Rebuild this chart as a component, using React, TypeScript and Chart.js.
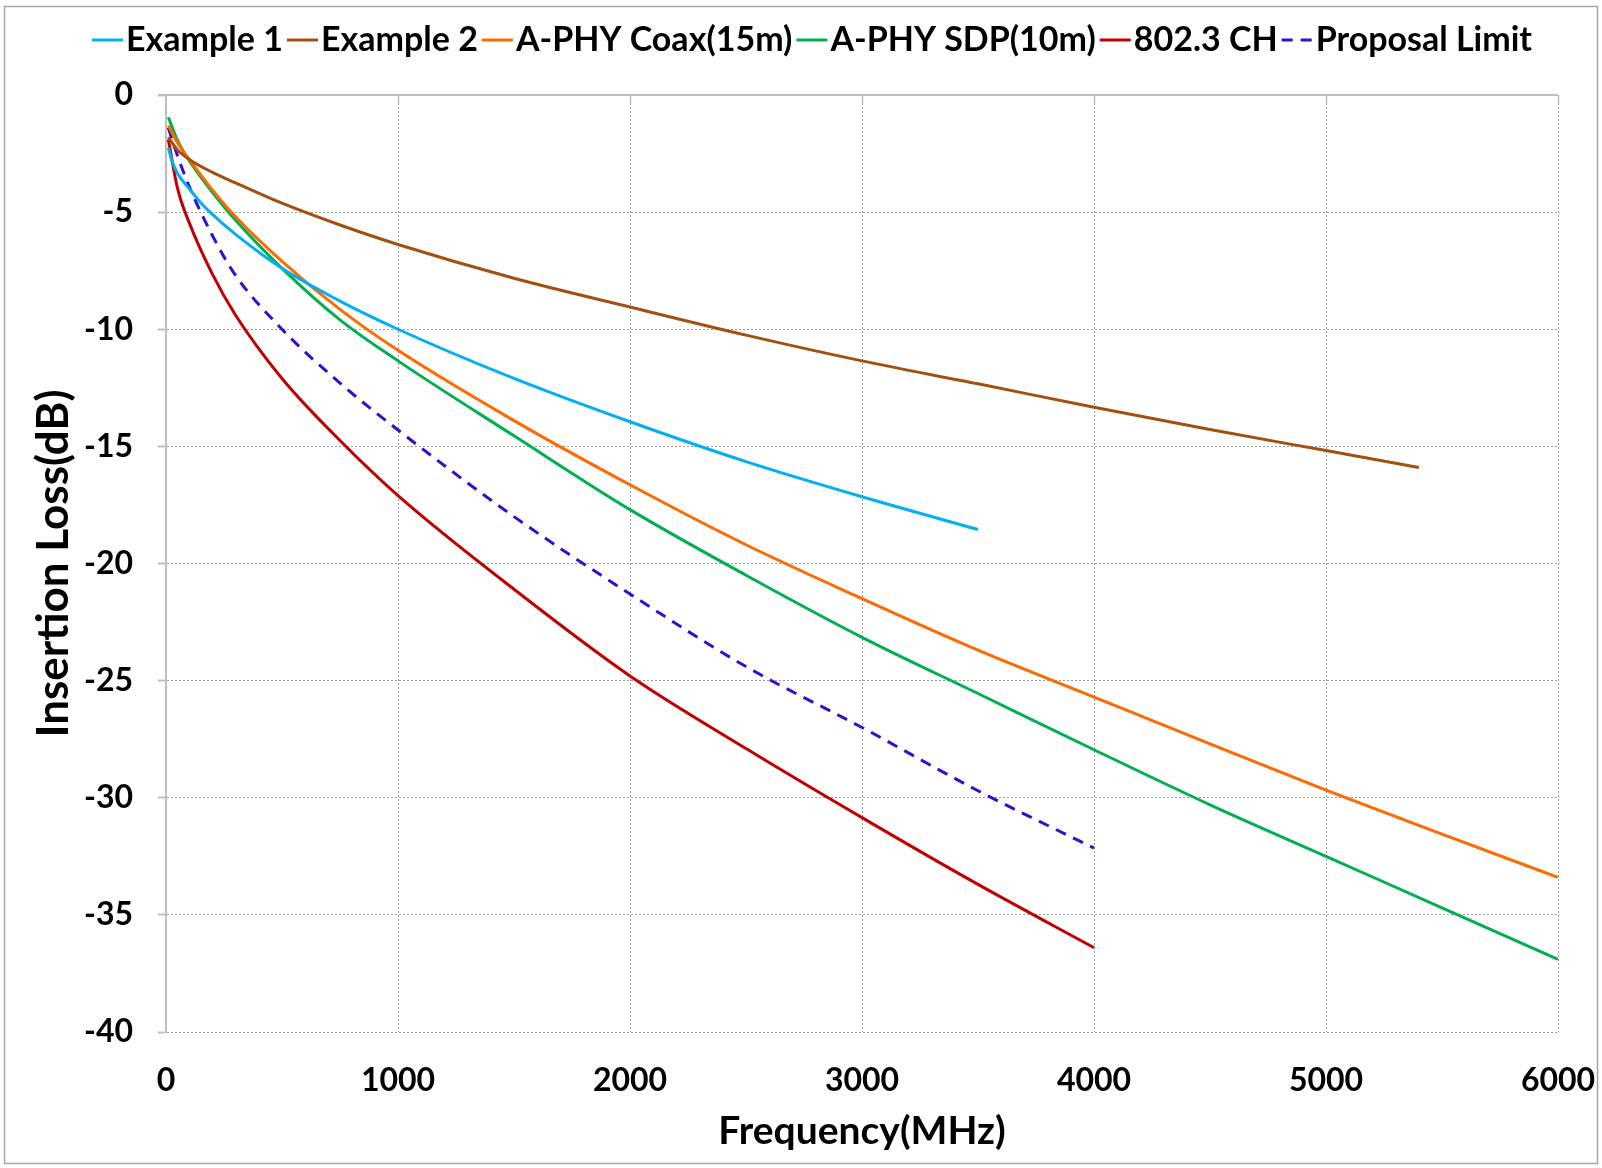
import React, { useEffect, useRef } from "react";
import { Chart, registerables } from "chart.js";

Chart.register(...registerables);

// ---- data ----
const X_TICKS = [0, 1000, 2000, 3000, 4000, 5000, 6000];
const Y_TICKS = [0, -5, -10, -15, -20, -25, -30, -35, -40];

const EX1_FREQ = [10, 25, 50, 100, 150, 200, 300, 500, 750, 1000, 1500, 2000, 2500, 3000, 3500];
const EX1_LOSS = [-2.25, -2.8, -3.35, -4.0, -4.6, -5.1, -5.95, -7.4, -8.8, -10.0, -12.1, -13.95, -15.65, -17.15, -18.55];

const EX2_FREQ = [10, 50, 100, 200, 300, 500, 750, 1000, 1500, 2000, 2500, 3000, 3500, 4000, 4500, 5000, 5400];
const EX2_LOSS = [-1.8, -2.35, -2.75, -3.3, -3.75, -4.62, -5.55, -6.38, -7.82, -9.05, -10.25, -11.35, -12.33, -13.33, -14.28, -15.18, -15.9];

const COAX_FREQ = [10, 50, 100, 200, 300, 500, 750, 1000, 1500, 2000, 2500, 3000, 3500, 4000, 4500, 5000, 5500, 6000];
const COAX_LOSS = [-1.3, -2.05, -2.75, -4.05, -5.2, -7.1, -9.15, -10.9, -13.9, -16.64, -19.2, -21.5, -23.7, -25.7, -27.7, -29.67, -31.55, -33.4];

const SDP_FREQ = [10, 50, 100, 200, 300, 500, 750, 1000, 1500, 2000, 2500, 3000, 3500, 4000, 4500, 5000, 5500, 6000];
const SDP_LOSS = [-0.95, -1.95, -2.8, -4.15, -5.35, -7.4, -9.6, -11.35, -14.55, -17.7, -20.5, -23.15, -25.55, -27.95, -30.3, -32.5, -34.7, -36.9];

const CH_FREQ = [10, 50, 100, 200, 300, 500, 750, 1000, 1500, 2000, 2500, 3000, 3500, 4000];
const CH_LOSS = [-1.9, -4.0, -5.45, -7.65, -9.4, -12.1, -14.75, -17.1, -21.1, -24.8, -27.9, -30.85, -33.7, -36.4];

const LIMIT_FREQ = [10, 50, 100, 200, 300, 500, 750, 1000, 1500, 2000, 2500, 3000, 3500, 4000];
const LIMIT_LOSS = [-1.4, -2.6, -3.9, -6.0, -7.7, -10.0, -12.3, -14.3, -18.0, -21.3, -24.4, -27.0, -29.7, -32.15];

const SERIES_NAMES = ["Example 1", "Example 2", "A-PHY Coax(15m)", "A-PHY SDP(10m)", "802.3 CH", "Proposal Limit"];
const X_TITLE = "Frequency(MHz)";
const Y_TITLE = "Insertion Loss(dB)";

// ---- styles ----
const FONT = "Lato, 'Open Sans', sans-serif";
const COLORS = ["#00B0F0", "#A0500F", "#FF6A00", "#00B050", "#C00000", "#3010D0"];
const AXIS_GRAY = "#BFBFBF";
const GRID_GRAY = "#9A9A9A";

const toPts = (xs: number[], ys: number[]) => xs.map((x, i) => ({ x, y: ys[i] }));

const legendPlugin = {
  id: "customLegend",
  afterDraw(chart: any) {
    const ctx = chart.ctx as CanvasRenderingContext2D;
    ctx.save();
    ctx.font = `bold 34px ${FONT}`;
    const lineLen = 31, gapText = 3, gapItem = 4;
    const items = chart.data.datasets.map((ds: any) => ({
      label: ds.label as string,
      color: ds.borderColor as string,
      dash: (ds.borderDash || []) as number[],
    }));
    const widths = items.map((it: any) => ctx.measureText(it.label).width);
    const total =
      widths.reduce((a: number, w: number) => a + lineLen + gapText + w, 0) + gapItem * (items.length - 1);
    let x = 812 - total / 2;
    const y = 40;
    items.forEach((it: any, i: number) => {
      ctx.strokeStyle = it.color;
      ctx.lineWidth = 3;
      ctx.setLineDash(it.dash);
      ctx.beginPath();
      ctx.moveTo(x, y);
      ctx.lineTo(x + lineLen, y);
      ctx.stroke();
      x += lineLen + gapText;
      ctx.setLineDash([]);
      ctx.fillStyle = "#000";
      ctx.textBaseline = "middle";
      ctx.textAlign = "left";
      ctx.fillText(it.label, x, y);
      x += widths[i] + gapItem;
    });
    ctx.restore();
  },
};

const framePlugin = {
  id: "frame",
  beforeDraw(chart: any) {
    const ctx = chart.ctx as CanvasRenderingContext2D;
    ctx.save();
    ctx.fillStyle = "#fff";
    ctx.fillRect(0, 0, chart.width, chart.height);
    ctx.strokeStyle = "#A6A6A6";
    ctx.lineWidth = 1.5;
    ctx.strokeRect(4.5, 6.5, chart.width - 9, chart.height - 11);
    ctx.restore();
  },
  beforeDatasetsDraw(chart: any) {
    const ctx = chart.ctx as CanvasRenderingContext2D;
    const { left, right, top } = chart.chartArea;
    const xs = chart.scales.x;
    ctx.save();
    ctx.strokeStyle = AXIS_GRAY;
    ctx.lineWidth = 2;
    ctx.beginPath();
    ctx.moveTo(left - 8, top);
    ctx.lineTo(right, top);
    ctx.stroke();
    X_TICKS.forEach((v) => {
      if (v === 0) return;
      const px = Math.round(xs.getPixelForValue(v)) + 0.5;
      ctx.lineWidth = 1.5;
      ctx.beginPath();
      ctx.moveTo(px, top);
      ctx.lineTo(px, top + 8);
      ctx.stroke();
    });
    ctx.restore();
  },
};

export default function App() {
  const ref = useRef<HTMLCanvasElement | null>(null);
  useEffect(() => {
    if (!ref.current) return;
    const mk = (i: number, xs: number[], ys: number[], extra: any = {}) => ({
      label: SERIES_NAMES[i],
      data: toPts(xs, ys),
      borderColor: COLORS[i],
      backgroundColor: COLORS[i],
      borderWidth: 3,
      pointRadius: 0,
      pointHoverRadius: 0,
      cubicInterpolationMode: "monotone",
      fill: false,
      ...extra,
    });
    const chart = new Chart(ref.current, {
      type: "line",
      data: {
        datasets: [
          mk(0, EX1_FREQ, EX1_LOSS),
          mk(1, EX2_FREQ, EX2_LOSS),
          mk(2, COAX_FREQ, COAX_LOSS),
          mk(3, SDP_FREQ, SDP_LOSS),
          mk(4, CH_FREQ, CH_LOSS),
          mk(5, LIMIT_FREQ, LIMIT_LOSS, { borderDash: [11, 8] }),
        ] as any,
      },
      options: {
        responsive: false,
        animation: false,
        devicePixelRatio: 1,
        layout: { padding: { top: 95, right: 44, bottom: 0, left: 0 } },
        plugins: { legend: { display: false }, tooltip: { enabled: false } },
        scales: {
          x: {
            type: "linear",
            min: 0,
            max: 6000,
            afterFit: (s: any) => {
              s.height = 136;
              s.paddingLeft = 0;
              s.paddingRight = 0;
            },
            afterBuildTicks: (s: any) => {
              s.ticks = X_TICKS.map((v) => ({ value: v }));
            },
            ticks: {
              padding: 29,
              color: "#000",
              font: { family: FONT, size: 32, weight: "bold" },
              maxRotation: 0,
              callback: (v: any) => String(v),
            },
            grid: {
              drawTicks: false,
              color: (c: any) => (c.tick && c.tick.value === 0 ? "rgba(0,0,0,0)" : GRID_GRAY),
              lineWidth: 1,
            },
            border: { display: false, dash: [2, 2] },
            title: {
              display: true,
              text: X_TITLE,
              color: "#000",
              font: { family: FONT, size: 39, weight: "bold" },
              padding: { top: 0, bottom: 13 },
            },
          },
          y: {
            type: "linear",
            min: -40,
            max: 0,
            afterFit: (s: any) => {
              s.width = 166;
              s.paddingTop = 0;
              s.paddingBottom = 0;
            },
            afterBuildTicks: (s: any) => {
              s.ticks = Y_TICKS.slice().reverse().map((v) => ({ value: v }));
            },
            ticks: {
              padding: 25,
              color: "#000",
              font: { family: FONT, size: 32, weight: "bold" },
              callback: (v: any) => String(v),
            },
            grid: {
              drawTicks: true,
              tickLength: 8,
              tickColor: AXIS_GRAY,
              tickWidth: 2,
              tickBorderDash: [],
              color: (c: any) => (c.tick && c.tick.value === 0 ? "rgba(0,0,0,0)" : GRID_GRAY),
              lineWidth: 1,
            },
            border: { display: true, color: AXIS_GRAY, width: 2, dash: [2, 2] },
            title: {
              display: true,
              text: Y_TITLE,
              color: "#000",
              font: { family: FONT, size: 44, weight: "bold" },
              padding: { top: 27, bottom: 0 },
            },
          },
        },
      } as any,
      plugins: [framePlugin, legendPlugin],
    });
    return () => chart.destroy();
  }, []);
  return (
    <div style={{ position: "fixed", left: 0, top: 0, width: 1602, height: 1168, background: "#fff" }}>
      <canvas ref={ref} width={1602} height={1168} style={{ width: 1602, height: 1168, display: "block" }} />
    </div>
  );
}
